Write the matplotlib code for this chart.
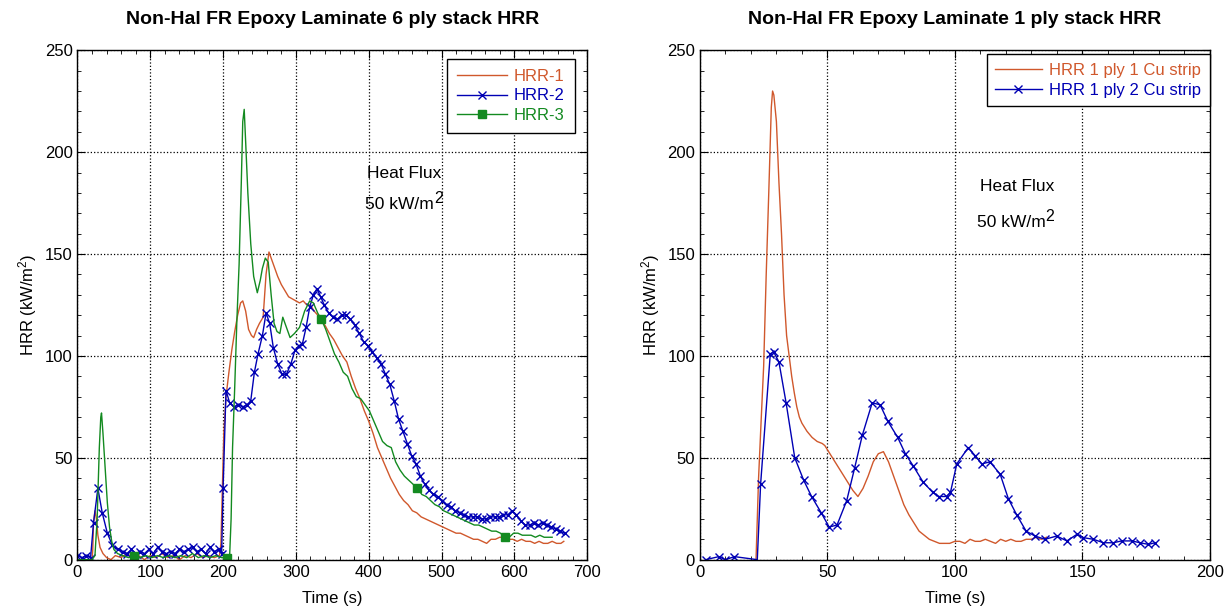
import numpy as np
import matplotlib
matplotlib.use('Agg')
import matplotlib.pyplot as plt
from matplotlib.ticker import MultipleLocator

plt.rcParams['font.family'] = ['Liberation Sans', 'DejaVu Sans']
plt.rcParams['mathtext.default'] = 'regular'

# ---- left panel: 6 ply stack ----
t1 = [0, 10, 20, 21, 22, 24, 26, 28, 31, 35, 40, 46, 52, 60, 68, 76, 84, 92, 100, 108,
      116, 124, 132, 140, 148, 156, 164, 172, 180, 188, 195, 197, 199, 201, 204, 208,
      212, 216, 220, 224, 227, 231, 235, 239, 242, 246, 250, 255, 259, 263, 266, 270,
      275, 280, 285, 290, 295, 300, 305, 310, 315, 320, 325, 330, 335, 340, 346, 352,
      358, 364, 370, 376, 382, 388, 394, 400, 406, 412, 418, 424, 430, 436, 442, 448,
      454, 460, 466, 472, 478, 484, 490, 496, 502, 508, 514, 520, 526, 532, 538, 544,
      550, 556, 562, 568, 574, 580, 586, 592, 598, 604, 610, 616, 622, 628, 634, 640,
      646, 652, 658, 664, 668]
v1 = [0, 0, 0, 5, 18, 24, 20, 12, 6, 3, 1, 0, 2, 1, 3, 1, 2, 0, 2, 1,
      3, 1, 2, 0, 2, 1, 3, 1, 2, 1, 2, 8, 35, 62, 80, 92,
      103, 112, 120, 126, 127, 122, 113, 110, 109, 113, 116, 119, 140, 151, 148, 144,
      139, 135, 132, 129, 128, 127, 126, 127, 125, 125, 122, 120, 117, 115, 111, 108,
      104, 100, 97, 90, 84, 79, 73, 68, 62, 55, 50, 45, 40, 36, 32, 29,
      27, 24, 23, 21, 20, 19, 18, 17, 16, 15, 14, 13, 13, 12, 11, 10,
      10, 9, 8, 10, 10, 11, 11, 10, 10, 9, 10, 9, 9, 8, 9, 8,
      8, 9, 8, 8, 9]

t2 = [0, 6, 12, 18, 22, 28, 34, 41, 48, 55, 62, 68, 74, 80, 86, 92, 98, 104, 110, 116,
      122, 128, 134, 140, 146, 152, 158, 164, 170, 176, 182, 188, 194, 198, 200, 204,
      209, 215, 221, 227, 233, 238, 243, 248, 254, 259, 264, 269, 275, 281, 287, 293,
      299, 304, 309, 314, 319, 324, 329, 334, 339, 345, 351, 357, 363, 369, 375, 381,
      387, 393, 399, 405, 411, 417, 423, 429, 435, 441, 447, 453, 459, 465, 471, 477,
      483, 489, 495, 501, 507, 513, 519, 525, 531, 537, 543, 549, 555, 561, 567, 573,
      579, 585, 591, 597, 603, 609, 615, 621, 627, 633, 639, 645, 651, 657, 663, 669]
v2 = [2, 1, 2, 1, 18, 35, 23, 13, 7, 5, 4, 3, 5, 3, 4, 3, 5, 3, 6, 4,
      3, 4, 3, 5, 4, 5, 6, 4, 5, 3, 6, 4, 5, 3, 35, 83,
      77, 75, 76, 75, 76, 78, 92, 101, 110, 121, 116, 104, 96, 91, 91, 96,
      103, 105, 106, 114, 124, 130, 133, 129, 125, 121, 119, 118, 120, 120, 118, 115,
      111, 107, 105, 102, 99, 96, 91, 86, 78, 69, 63, 57, 51, 47, 41, 37,
      34, 32, 31, 29, 27, 26, 24, 23, 22, 21, 21, 21, 20, 20, 21, 21,
      21, 22, 22, 24, 22, 19, 17, 17, 18, 17, 18, 17, 16, 15, 14, 13]

t3 = [0, 10, 20, 24, 27, 30, 32, 33, 35, 38, 41, 44, 47, 50, 55, 62, 70, 78, 86, 94,
      102, 110, 118, 126, 134, 142, 150, 158, 166, 174, 182, 190, 198, 205, 209, 211,
      213, 216, 219, 222, 225, 227, 229, 231, 234, 238, 242, 247, 251, 254, 258, 262,
      266, 270, 274, 278, 282, 287, 292, 298, 305, 312, 319, 324, 330, 335, 341, 347,
      353, 359, 365, 371, 377, 383, 389, 395, 401, 407, 413, 419, 425, 431, 437, 443,
      449, 455, 461, 467, 473, 479, 485, 491, 497, 503, 509, 515, 521, 527, 533, 539,
      545, 551, 557, 563, 569, 575, 581, 587, 593, 599, 605, 611, 617, 623, 629, 635,
      641, 647, 652]
v3 = [0, 0, 0, 2, 20, 55, 70, 72, 62, 45, 28, 16, 9, 5, 3, 2, 1, 2, 1, 2,
      1, 2, 1, 2, 1, 2, 1, 3, 1, 2, 1, 2, 1, 1, 2, 20,
      55, 85, 118, 145, 185, 215, 221, 205, 180, 155, 139, 131, 137, 143, 148, 146,
      130, 116, 112, 111, 119, 114, 109, 111, 114, 122, 127, 126, 121, 118, 113, 107,
      101, 97, 92, 90, 84, 80, 79, 76, 73, 68, 63, 58, 56, 55, 48, 44,
      41, 39, 37, 35, 32, 31, 29, 27, 26, 24, 23, 22, 21, 20, 19, 18,
      17, 17, 16, 15, 14, 14, 13, 11, 11, 13, 13, 12, 12, 12, 11, 12,
      11, 11, 11]
marks3 = [78, 205, 335, 467, 587]

# ---- right panel: 1 ply stack ----
tr1 = [22, 23, 24, 25, 26, 27, 28, 28.5, 29, 30, 31, 32, 33, 34, 35, 36, 37, 38, 39, 40,
       42, 44, 46, 48, 49, 50, 52, 54, 56, 58, 60, 62, 64, 66, 68, 70, 72, 74, 76, 78,
       80, 82, 84, 86, 88, 90, 92, 94, 96, 98, 100, 102, 104, 106, 108, 110, 112, 114,
       116, 118, 120, 122, 124, 126, 128, 130, 132, 134, 136]
vr1 = [0, 40, 68, 95, 140, 180, 222, 230, 228, 215, 185, 160, 130, 110, 100, 90, 82, 75, 70, 67,
       63, 60, 58, 57, 56, 54, 50, 46, 42, 38, 34, 31, 35, 41, 48, 52, 53, 48, 41, 34,
       27, 22, 18, 14, 12, 10, 9, 8, 8, 8, 9, 9, 8, 10, 9, 9, 10, 9,
       8, 10, 9, 10, 9, 9, 10, 10, 11, 10, 11]

tr2 = [2.3, 7.4, 10, 13.5, 22.5, 23.8, 27.6, 28.9, 31, 33.8, 37.2, 40.7, 43.8, 47.6, 50.7,
       53.8, 57.6, 60.7, 63.7, 67.6, 70.7, 73.7, 77.6, 80.6, 83.7, 87.6, 91.4, 93.7, 96.8,
       98.3, 100.8, 105.3, 108, 110.6, 113.8, 117.8, 121, 124.3, 128, 131.5, 135.4,
       140, 144, 147.9, 150.5, 154.4, 158.3, 162.2, 165.5, 169.5, 172.7, 176, 178.6]
vr2 = [0, 1.5, 0, 1.5, 0, 37, 101, 102, 97, 77, 50, 39, 31, 23, 16,
       17, 29, 45, 61, 77, 76, 68, 60, 52, 46, 38, 33, 31, 31,
       33, 47, 55, 51, 47, 48, 42, 30, 22, 14, 11.6, 10,
       11.6, 9.2, 12.4, 10.8, 10, 8.3, 8.3, 9.2, 9.2, 8.3, 7.5, 8.3]

c_or = '#d0582c'
c_bl = '#0000b4'
c_gr = '#138a20'


def style_axes(ax, xmax, xmaj, xmin):
    ax.set_xlim(0, xmax)
    ax.set_ylim(0, 250)
    ax.xaxis.set_major_locator(MultipleLocator(xmaj))
    ax.xaxis.set_minor_locator(MultipleLocator(xmin))
    ax.yaxis.set_major_locator(MultipleLocator(50))
    ax.yaxis.set_minor_locator(MultipleLocator(10))
    ax.tick_params(which='both', direction='in', top=True, right=True, labelsize=12)
    ax.tick_params(which='major', length=6)
    ax.tick_params(which='minor', length=3)
    ax.grid(True, which='major', linestyle=':', color='black', linewidth=0.9)
    ax.set_xlabel('Time (s)', fontsize=12, labelpad=8)
    ax.set_ylabel('HRR (kW/m$^2$)', fontsize=12, labelpad=4)
    for s in ax.spines.values():
        s.set_linewidth(1.0)


def style_legend(leg, colors):
    leg.get_frame().set_linewidth(1.0)
    for txt, c in zip(leg.get_texts(), colors):
        txt.set_color(c)


def heat_flux(ax, x1, y1, x2, y2):
    ax.text(x1, y1, 'Heat Flux', fontsize=12.5, ha='left', va='center')
    base = ax.text(x2, y2, '50 kW/m', fontsize=12.5, ha='left', va='center')
    # MATLAB-style large superscript
    ax.annotate('2', xy=(1.0, 0.9), xycoords=base, fontsize=11.5,
                ha='left', va='center')


fig = plt.figure(figsize=(12.28, 6.13), dpi=100)
ax1 = fig.add_axes([0.0631, 0.087, 0.415, 0.831])
ax2 = fig.add_axes([0.570, 0.087, 0.415, 0.831])

ax1.plot(t1, v1, color=c_or, lw=1.0, label='HRR-1')
ax1.plot(t2, v2, color=c_bl, lw=1.0, marker='x', ms=6, mew=1.0, label='HRR-2')
t3a = np.array(t3)
idx3 = [int(np.argmin(np.abs(t3a - m))) for m in marks3]
ax1.plot(t3, v3, color=c_gr, lw=1.0, marker='s', ms=6, markevery=idx3, label='HRR-3')
style_axes(ax1, 700, 100, 20)
ax1.set_title('Non-Hal FR Epoxy Laminate 6 ply stack HRR', fontsize=14,
              fontweight='bold', pad=19)
heat_flux(ax1, 398, 189.5, 395, 174.5)
leg1 = ax1.legend(loc='upper right', bbox_to_anchor=(0.976, 0.9825), borderaxespad=0,
                  fontsize=12, numpoints=1, fancybox=False, framealpha=1,
                  edgecolor='black', handlelength=3.0, handletextpad=0.45,
                  labelspacing=0.25, borderpad=0.6)
style_legend(leg1, [c_or, c_bl, c_gr])

ax2.plot(tr1, vr1, color=c_or, lw=1.0, label='HRR 1 ply 1 Cu strip')
mk2 = [i for i in range(len(tr2)) if i != 4]
ax2.plot(tr2, vr2, color=c_bl, lw=1.0, marker='x', ms=6, mew=1.0, markevery=mk2,
         label='HRR 1 ply 2 Cu strip')
style_axes(ax2, 200, 50, 10)
ax2.set_title('Non-Hal FR Epoxy Laminate 1 ply stack HRR', fontsize=14,
              fontweight='bold', pad=19)
heat_flux(ax2, 110, 183, 108.6, 165.5)
leg2 = ax2.legend(loc='upper right', bbox_to_anchor=(1.0, 0.992), borderaxespad=0,
                  fontsize=12, numpoints=1, fancybox=False, framealpha=1,
                  edgecolor='black', handlelength=2.8, handletextpad=0.45,
                  labelspacing=0.3, borderpad=0.5)
style_legend(leg2, [c_or, c_bl])

fig.savefig('out.png', dpi=100)
